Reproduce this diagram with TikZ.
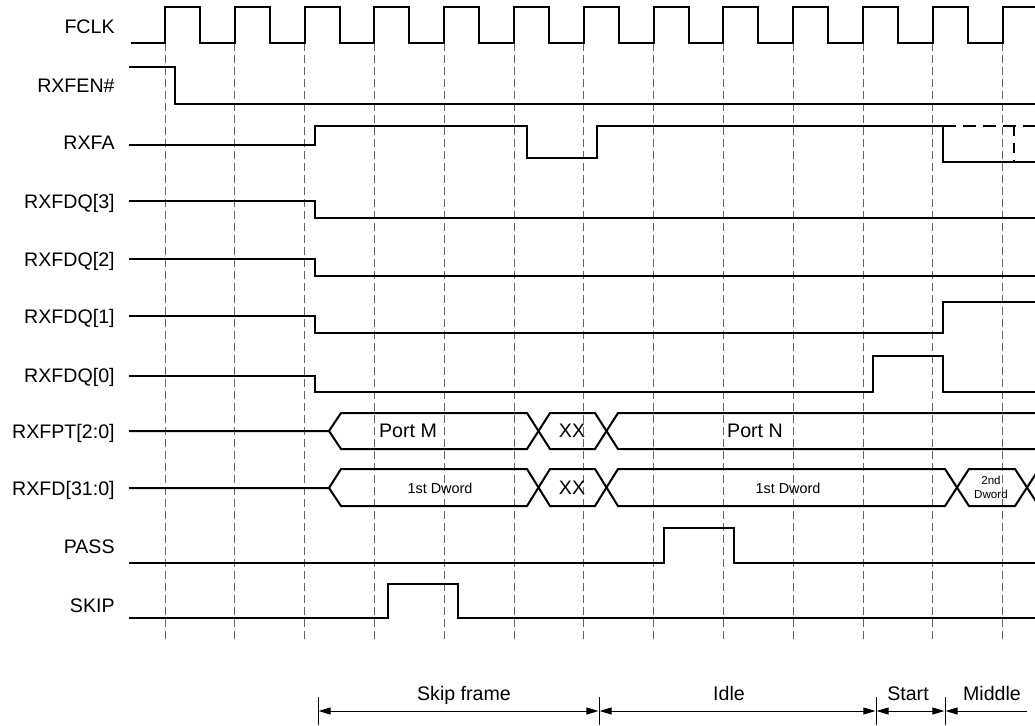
\documentclass[tikz,border=0pt]{standalone}
\usepackage{fontspec}
\setmainfont{Liberation Sans}
\usetikzlibrary{arrows.meta}

\begin{document}
\begin{tikzpicture}[x=0.5pt,y=-0.5pt,
    wave/.style={line width=1pt},
    gridline/.style={black!60,line width=0.5pt,dash pattern=on 4pt off 2pt},
    sname/.style={anchor=base east,inner sep=0pt,font=\fontsize{9.8}{12}\selectfont},
    busval/.style={inner sep=0pt,font=\fontsize{9.8}{12}\selectfont},
    smallval/.style={inner sep=0pt,font=\fontsize{7.2}{9}\selectfont},
    tinyval/.style={inner sep=0pt,align=center,font=\fontsize{5.8}{7}\selectfont},
    phase/.style={line width=0.5pt,{Triangle[length=6pt,width=3.5pt]}-{Triangle[length=6pt,width=3.5pt]},shorten <=0.3pt,shorten >=0.3pt}]
    \useasboundingbox (0,0) rectangle (1035,725);
    \clip (0,0) rectangle (1035,725);
    % Draw the clock edge markers
    \foreach \k in {0,...,12}
        \draw[gridline] ({165+69.8*\k},43) -- ({165+69.8*\k},640);
    % Signal names
    \node[sname] (fclk) at (115,33) {FCLK};
    \node[sname] (rxfen) at (115,92) {RXFEN\#};
    \node[sname] (rxfa) at (115,149) {RXFA};
    \node[sname] (rxfdq3) at (115,208) {RXFDQ[3]};
    \node[sname] (rxfdq2) at (115,266) {RXFDQ[2]};
    \node[sname] (rxfdq1) at (115,323) {RXFDQ[1]};
    \node[sname] (rxfdq0) at (115,382) {RXFDQ[0]};
    \node[sname] (rxfpt) at (115,438) {RXFPT[2:0]};
    \node[sname] (rxfd) at (115,495) {RXFD[31:0]};
    \node[sname] (pass) at (115,553) {PASS};
    \node[sname] (skip) at (115,612) {SKIP};
    % Draw the clock
    \draw[wave] (131,43) \foreach \k in {0,...,11} {
        -- ({165+69.8*\k},43) -- ({165+69.8*\k},7)
        -- ({200+69.8*\k},7) -- ({200+69.8*\k},43) }
        -- (1003,43) -- (1003,7) -- (1040,7);
    % Draw the single lines
    \draw[wave] (129,67) -- (175,67) -- (175,104) -- (1040,104);
    \draw[wave] (129,145) -- (315,145) -- (315,126) -- (527,126) -- (527,158)
        -- (597,158) -- (597,126) -- (943,126) -- (943,162) -- (1040,162);
    \draw[wave,dash pattern=on 6.5pt off 3.5pt] (943,126) -- (1040,126);
    \draw[wave,dash pattern=on 5pt off 3.5pt] (1014,126) -- (1014,162);
    \draw[wave] (129,201) -- (315,201) -- (315,218) -- (1040,218);
    \draw[wave] (129,259) -- (315,259) -- (315,276) -- (1040,276);
    \draw[wave] (129,316) -- (315,316) -- (315,333) -- (943,333) -- (943,302) -- (1040,302);
    \draw[wave] (129,376) -- (315,376) -- (315,392) -- (873,392) -- (873,356)
        -- (943,356) -- (943,392) -- (1040,392);
    % Draw the buses
    \draw[wave] (129,431) -- (329,431) -- (341,413) -- (527,413) -- (550,449)
        -- (595,449) -- (618,413) -- (1040,413);
    \draw[wave] (329,431) -- (341,449) -- (527,449) -- (550,413)
        -- (595,413) -- (618,449) -- (1040,449);
    \draw[wave] (129,488) -- (329,488) -- (341,469) -- (527,469) -- (550,506)
        -- (595,506) -- (618,469) -- (945,469) -- (969,506) -- (1015,506) -- (1039,469);
    \draw[wave] (329,488) -- (341,506) -- (527,506) -- (550,469)
        -- (595,469) -- (618,506) -- (945,506) -- (969,469) -- (1015,469) -- (1039,506);
    \node[busval] (portm) at (408,431) {Port M};
    \node[busval] (xxa) at (572,431) {XX};
    \node[busval] (portn) at (755,431) {Port N};
    \node[smallval] (dwa) at (440,488) {1st Dword};
    \node[busval] (xxb) at (572,488) {XX};
    \node[smallval] (dwb) at (788,488) {1st Dword};
    \node[tinyval] (dwc) at (991,487) {2nd\\Dword};
    % Draw the pulses
    \draw[wave] (129,563) -- (664,563) -- (664,528) -- (734,528) -- (734,563) -- (1040,563);
    \draw[wave] (129,618) -- (388,618) -- (388,584) -- (458,584) -- (458,618) -- (1040,618);
    % Phases
    \foreach \x [count=\i] in {318,599,876,945} {
        \coordinate (p\i) at (\x,711);
        \draw[line width=0.5pt] (\x,697) -- (\x,725);
    }
    \coordinate (pend) at (1027,711);
    \draw[phase] (p1) -- (p2);
    \draw[phase] (p2) -- (p3);
    \draw[phase] (p3) -- (p4);
    \draw[line width=0.5pt,-{Triangle[length=6pt,width=3.5pt]},shorten >=0.3pt] (pend) -- (p4);
    \node[busval,anchor=base] (skipframe) at (464,700) {Skip frame};
    \node[busval,anchor=base] (idle) at (729,700) {Idle};
    \node[busval,anchor=base] (start) at (908,700) {Start};
    \node[busval,anchor=base] (middle) at (992,700) {Middle};
\end{tikzpicture}
\end{document}
